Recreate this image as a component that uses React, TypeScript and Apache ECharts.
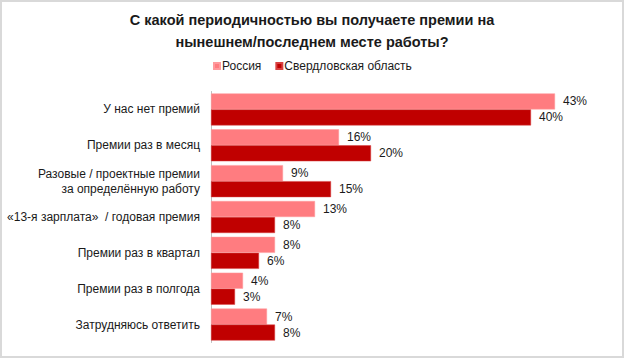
import React, { useEffect, useRef } from "react";
import * as echarts from "echarts";

const categories = [
  "У нас нет премий",
  "Премии раз в месяц",
  "Разовые / проектные премии\nза определённую работу",
  "«13-я зарплата»  / годовая премия",
  "Премии раз в квартал",
  "Премии раз в полгода",
  "Затрудняюсь ответить",
];
const russia = [43, 16, 9, 13, 8, 4, 7];
const sverdlovsk = [40, 20, 15, 8, 6, 3, 8];
const seriesNames = ["Россия", "Свердловская область"];
const titleText = "С какой периодичностью вы получаете премии на\nнынешнем/последнем месте работы?";

export default function App() {
  const ref = useRef<HTMLDivElement>(null);
  useEffect(() => {
    if (!ref.current) return;
    const chart = echarts.init(ref.current, null, { renderer: "svg" });
    const font = "Liberation Sans, Arial, sans-serif";
    const label = {
      show: true,
      position: "right" as const,
      distance: 8,
      formatter: "{c}%",
      color: "#1a1a1a",
      fontSize: 12,
      fontFamily: font,
    };
    chart.setOption({
      animation: false,
      backgroundColor: "#ffffff",
      graphic: [
        {
          type: "text",
          x: 312,
          y: 9,
          style: {
            text: titleText,
            textAlign: "center",
            fontFamily: font,
            fontSize: 14.5,
            fontWeight: "bold",
            fill: "#1a1a1a",
            lineHeight: 22,
          },
        },
      ],
      legend: {
        top: 55,
        left: 208,
        itemWidth: 6,
        itemHeight: 6,
        itemGap: 14,
        icon: "rect",
        textStyle: { fontFamily: font, fontSize: 12, color: "#1a1a1a", padding: [0, 0, 0, -3] },
        data: seriesNames,
      },
      grid: { left: 211, top: 91.5, width: 400, height: 251, containLabel: false },
      xAxis: {
        type: "value",
        min: 0,
        max: 50,
        show: false,
      },
      yAxis: {
        type: "category",
        data: categories,
        inverse: true,
        axisLine: { show: true, lineStyle: { color: "#bfbfbf", width: 1 } },
        axisTick: { show: false },
        axisLabel: {
          margin: 11,
          fontFamily: font,
          fontSize: 12,
          color: "#1a1a1a",
          lineHeight: 15,
          align: "right",
        },
      },
      series: [
        {
          name: seriesNames[0],
          type: "bar",
          data: russia,
          barWidth: 16,
          barGap: "0%",
          barCategoryGap: "11%",
          itemStyle: { color: "#ff7c80", borderColor: "#ff9a9d", borderWidth: 0.5 },
          label,
        },
        {
          name: seriesNames[1],
          type: "bar",
          data: sverdlovsk,
          barWidth: 16,
          barGap: "0%",
          itemStyle: { color: "#c00000", borderColor: "#d84040", borderWidth: 0.5 },
          label,
        },
      ],
    });
    return () => chart.dispose();
  }, []);
  return (
    <div
      style={{
        position: "fixed",
        left: 0,
        top: 0,
        width: 624,
        height: 358,
        boxSizing: "border-box",
        border: "2px solid #d9d9d9",
        background: "#fff",
        overflow: "hidden",
      }}
    >
      <div ref={ref} style={{ position: "absolute", left: -2, top: -2, width: 624, height: 358 }} />
    </div>
  );
}
